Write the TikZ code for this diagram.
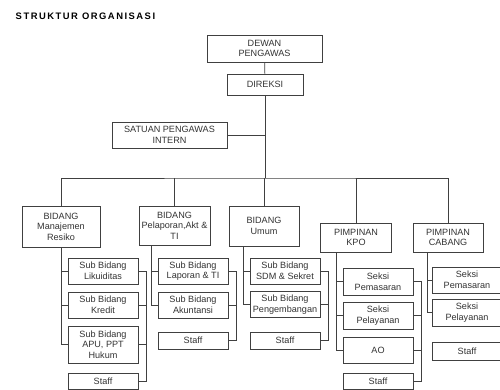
\documentclass[tikz,border=0pt]{standalone}
\usepackage{fontspec}
\setmainfont{Liberation Sans}
\newfontfamily\titlefont[LetterSpace=16]{Liberation Sans Bold}
\definecolor{line_c}{rgb}{0.25, 0.25, 0.25}
\definecolor{text_c}{rgb}{0.2, 0.2, 0.2}
\usetikzlibrary{positioning, calc}

\begin{document}
\begin{tikzpicture}[
			x=1pt, y=-1pt,
			line width=0.8pt,
			draw=line_c,
			box/.style = {rectangle, draw=line_c, fill=white, text=text_c, inner sep=0pt, align=center,
				font=\fontsize{9.1}{10.6}\selectfont},
			sub/.style = {box, minimum width=70pt, minimum height=26pt},
			staffbox/.style = {box, minimum width=70pt, minimum height=16pt},
			]
			\clip (0,0) rectangle (500,390);
			\fill[white] (0,0) rectangle (500,390);
			% title
			\node[anchor=west, text=black, font=\titlefont\fontsize{9.4}{11}\selectfont] (title) at (12,16) {STRUKTUR ORGANISASI};
			% top
			\node[box, minimum width=115pt, minimum height=27pt] (dewan) at (264.5,48.5) {DEWAN\\PENGAWAS};
			\node[box, minimum width=76pt, minimum height=21pt] (direksi) at (265,84.5) {DIREKSI};
			\node[box, minimum width=115pt, minimum height=26pt] (spi) at (169.5,135) {SATUAN PENGAWAS\\INTERN};
			\coordinate (bus) at (265,178);
			% bidang
			\node[box, minimum width=78pt, minimum height=41pt] (bidang1) at (61,226.5) {BIDANG\\Manajemen\\Resiko};
			\node[box, minimum width=71pt, minimum height=39pt] (bidang2) at (174.5,225.5) {BIDANG\\Pelaporan,Akt \&\\TI};
			\node[box, minimum width=70pt, minimum height=40pt] (bidang3) at (264,226) {BIDANG\\Umum};
			\node[box, minimum width=71pt, minimum height=29pt] (kpo) at (356,237.5) {PIMPINAN\\KPO};
			\node[box, minimum width=70pt, minimum height=29pt] (cabang) at (448,237.5) {PIMPINAN\\CABANG};
			% column 1
			\node[sub] (lik) at (103,271) {Sub Bidang\\Likuiditas};
			\node[sub] (kredit) at (103,305) {Sub Bidang\\Kredit};
			\node[sub, minimum height=37pt] (apu) at (103,344.5) {Sub Bidang\\APU, PPT\\Hukum};
			\node[staffbox] (staff1) at (103,381) {Staff};
			% column 2
			\node[sub] (lap) at (193,271) {Sub Bidang\\Laporan \& TI};
			\node[sub] (akun) at (193,305) {Sub Bidang\\Akuntansi};
			\node[staffbox, minimum height=17pt] (staff2) at (193,340.5) {Staff};
			% column 3
			\node[sub] (sdm) at (285,271) {Sub Bidang\\SDM \& Sekret};
			\node[sub] (peng) at (285,304.5) {Sub Bidang\\Pengembangan};
			\node[staffbox, minimum height=17pt] (staff3) at (285,340.5) {Staff};
			% column 4
			\node[sub, minimum height=27pt] (pem) at (378,281.5) {Seksi\\Pemasaran};
			\node[sub, minimum height=27pt] (pel) at (378,315.5) {Seksi\\Pelayanan};
			\node[sub] (ao) at (378,350) {AO};
			\node[staffbox] (staff4) at (378,381) {Staff};
			% column 5
			\node[sub] (pem2) at (467,280) {Seksi\\Pemasaran};
			\node[sub, minimum height=27pt] (pel2) at (467,312.5) {Seksi\\Pelayanan};
			\node[staffbox, minimum height=18pt] (staff5) at (467,351) {Staff};
			% spines
			\coordinate (s1) at (61,247);
			\coordinate (s2) at (151,245);
			\coordinate (s3) at (243,246);
			\coordinate (s4) at (336,252);
			\coordinate (s5) at (427,252);
			\coordinate (r1) at (146,271);
			\coordinate (r2) at (236,271);
			\coordinate (r3) at (328,271);
			\coordinate (r4) at (421,281.5);
			% edges
			\draw (dewan) -- (direksi);
			\draw (direksi) -- (bus);
			\draw (spi.east) -- (spi.east -| bus);
			\draw (bidang1.north) |- (bus) -| (cabang.north);
			\foreach \b in {bidang2, bidang3, kpo}
				\draw (\b.north) -- (\b.north |- bus);
			\draw (s1) -- (s1 |- apu.west);
			\draw (s2) -- (s2 |- akun.west);
			\draw (s3) -- (s3 |- peng.west);
			\draw (s4) -- (s4 |- ao.west);
			\draw (s5) -- (s5 |- pel2.west);
			\foreach \s in {lik, kredit, apu}
				\draw (s1 |- \s.west) -- (\s.west);
			\foreach \s in {lap, akun}
				\draw (s2 |- \s.west) -- (\s.west);
			\foreach \s in {sdm, peng}
				\draw (s3 |- \s.west) -- (\s.west);
			\foreach \s in {pem, pel, ao}
				\draw (s4 |- \s.west) -- (\s.west);
			\foreach \s in {pem2, pel2}
				\draw (s5 |- \s.west) -- (\s.west);
			% staff brackets
			\draw (lik.east) -- (r1) -- (r1 |- staff1.east) -- (staff1.east);
			\draw (lap.east) -- (r2) -- (r2 |- staff2.east) -- (staff2.east);
			\draw (sdm.east) -- (r3) -- (r3 |- staff3.east) -- (staff3.east);
			\draw (pem.east) -- (r4) -- (r4 |- staff4.east) -- (staff4.east);
			\foreach \s in {kredit, apu}
				\draw (\s.east) -- (\s.east -| r1);
			\draw (akun.east) -- (akun.east -| r2);
			\draw (peng.east) -- (peng.east -| r3);
			\foreach \s in {pel, ao}
				\draw (\s.east) -- (\s.east -| r4);
		\end{tikzpicture}
\end{document}
